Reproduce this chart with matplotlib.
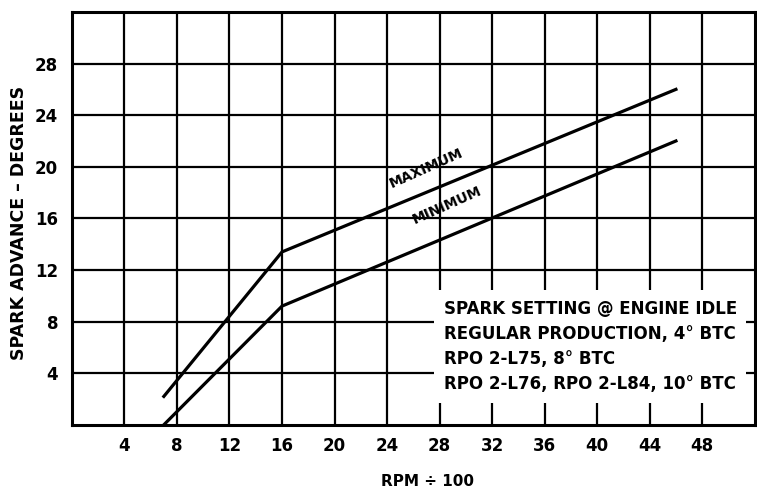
import matplotlib.pyplot as plt

# spark advance curves (degrees vs rpm/100)
rpm_max = [7.0, 16.0, 46.0]
adv_max = [2.2, 13.4, 26.0]
rpm_min = [7.0, 16.0, 46.0]
adv_min = [0.0, 9.2, 22.0]

x_ticks = [4, 8, 12, 16, 20, 24, 28, 32, 36, 40, 44, 48]
y_ticks = [4, 8, 12, 16, 20, 24, 28]

note_lines = [
    "SPARK SETTING @ ENGINE IDLE",
    "REGULAR PRODUCTION, 4° BTC",
    "RPO 2-L75, 8° BTC",
    "RPO 2-L76, RPO 2-L84, 10° BTC",
]

plt.rcParams['font.family'] = 'DejaVu Sans'
plt.rcParams['font.weight'] = 'bold'

fig = plt.figure(figsize=(7.57, 4.98), dpi=100)
ax = fig.add_axes([0.095, 0.147, 0.902, 0.829])

ax.set_xlim(0, 52)
ax.set_ylim(0, 32)

# grid every 4 units both ways
for gx in range(4, 52, 4):
    ax.axvline(gx, color='black', lw=1.6, zorder=1)
for gy in range(4, 32, 4):
    ax.axhline(gy, color='black', lw=1.6, zorder=1)

for s in ax.spines.values():
    s.set_linewidth(2.2)

ax.set_xticks(x_ticks)
ax.set_yticks(y_ticks)
ax.tick_params(length=0, labelsize=12, pad=9)
ax.tick_params(axis='y', pad=10)

ax.plot(rpm_max, adv_max, color='black', lw=2.3, zorder=3)
ax.plot(rpm_min, adv_min, color='black', lw=2.3, zorder=3)

ax.text(27.0, 19.9, "MAXIMUM", rotation=24, ha='center', va='center',
        fontsize=10, fontweight='bold')
ax.text(28.6, 17.0, "MINIMUM", rotation=24, ha='center', va='center',
        fontsize=10, fontweight='bold')

ax.text(28.3, 9.7, "\n".join(note_lines), ha='left', va='top',
        fontsize=12, fontweight='bold', linespacing=1.52, zorder=4,
        bbox=dict(facecolor='white', edgecolor='none', pad=7))

ax.set_xlabel("RPM ÷ 100", fontsize=11, fontweight='bold')
ax.xaxis.set_label_coords(0.521, -0.12)
ax.set_ylabel("SPARK ADVANCE – DEGREES", fontsize=12.5, fontweight='bold')
ax.yaxis.set_label_coords(-0.064, 0.49)

fig.savefig("out.png", dpi=100)
